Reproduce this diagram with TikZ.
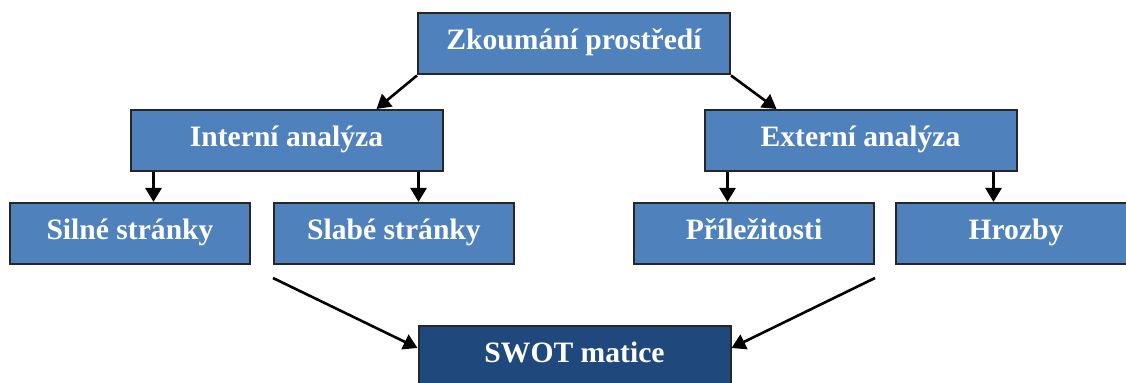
\documentclass[tikz,border=0pt]{standalone}
\usepackage{fontspec}
\setmainfont{Liberation Serif}
\usetikzlibrary{arrows.meta}
\definecolor{boxblue}{RGB}{79,129,189}
\definecolor{boxdark}{RGB}{31,73,125}

\begin{document}
\begin{tikzpicture}[x=0.5pt,y=-0.5pt,>={Triangle[length=7pt,width=8pt]},
	box/.style={draw=black!85,line width=1pt,fill=boxblue,text=white,font=\bfseries\fontsize{14.8}{17}\selectfont,inner sep=0pt,text height=0.75em,text depth=0.15em,minimum height=30.5pt},
	wide/.style={box,minimum width=156pt},
	narrow/.style={box,minimum width=120pt},
	conn/.style={->,line width=1.3pt}]
		\useasboundingbox (0,0) rectangle (1126,383);
		\node[wide] (top) at (574,44) {Zkoumání prostředí};
		\node[wide] (int) at (286.5,140.5) {Interní analýza};
		\node[wide] (ext) at (860.5,140.5) {Externí analýza};
		\node[narrow] (silne) at (130,233.5) {Silné stránky};
		\node[narrow] (slabe) at (394,233.5) {Slabé stránky};
		\node[narrow] (prilez) at (754,233.5) {Příležitosti};
		\node[narrow] (hrozby) at (1016,233.5) {Hrozby};
		\node[wide,fill=boxdark,minimum height=31pt] (swot) at (574.5,357) {SWOT matice};
		\draw[conn] (top.south west) -- ([xshift=45pt]int.north);
		\draw[conn] (top.south east) -- ([xshift=-42pt]ext.north);
		\draw[conn] ([xshift=12pt]int.south west) -- ([xshift=12pt]int.south west |- silne.north);
		\draw[conn] ([xshift=-12.5pt]int.south east) -- ([xshift=-12.5pt]int.south east |- slabe.north);
		\draw[conn] ([xshift=12pt]ext.south west) -- ([xshift=12pt]ext.south west |- prilez.north);
		\draw[conn] ([xshift=-12pt]ext.south east) -- ([xshift=-12pt]ext.south east |- hrozby.north);
		\draw[conn] ([yshift=-6.5pt]slabe.south west) -- ([yshift=4.5pt]swot.west);
		\draw[conn] ([yshift=-6.5pt]prilez.south east) -- ([yshift=4.5pt]swot.east);
\end{tikzpicture}
\end{document}
